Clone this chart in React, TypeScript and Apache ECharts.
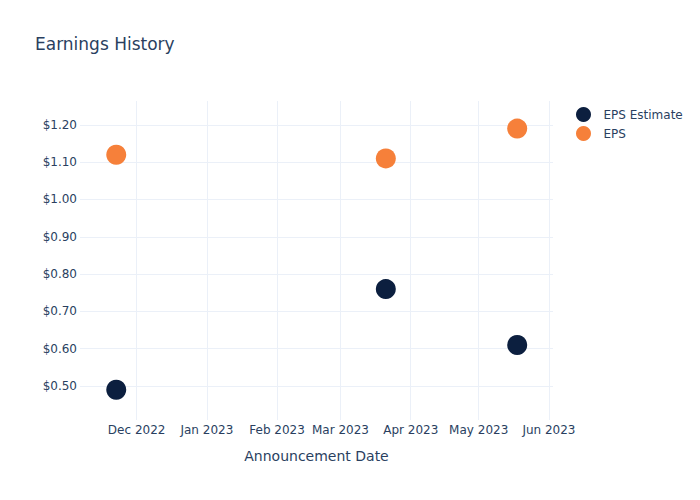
import React, { useEffect, useRef } from "react";
import * as echarts from "echarts";

const announcementDates = ["2022-11-22", "2023-03-21", "2023-05-18"];
const epsEstimate = [0.49, 0.76, 0.61];
const epsActual = [1.12, 1.11, 1.19];
const xTickDates = ["2022-12-01", "2023-01-01", "2023-02-01", "2023-03-01", "2023-04-01", "2023-05-01", "2023-06-01"];
const yTickValues = [0.5, 0.6, 0.7, 0.8, 0.9, 1.0, 1.1, 1.2];
const monthNames = ["Jan", "Feb", "Mar", "Apr", "May", "Jun", "Jul", "Aug", "Sep", "Oct", "Nov", "Dec"];

const ts = (d: string) => {
  const [y, m, day] = d.split("-").map(Number);
  return Date.UTC(y, m - 1, day);
};

const FONT = "DejaVu Sans";
const TEXT = "#2a3f5f";
const GRID = "#ebf0f8";

export default function App() {
  const ref = useRef<HTMLDivElement>(null);
  useEffect(() => {
    document.body.style.margin = "0";
    const chart = echarts.init(ref.current!, null, { renderer: "svg" });
    chart.setOption({
      animation: false,
      backgroundColor: "#ffffff",
      textStyle: { fontFamily: FONT },
      title: {
        text: "Earnings History",
        left: 30,
        top: 30,
        textStyle: { fontFamily: FONT, fontSize: 17, fontWeight: "normal", color: TEXT },
      },
      legend: {
        orient: "vertical",
        left: 571,
        top: 102,
        itemWidth: 26,
        itemHeight: 15,
        itemGap: 4,
        icon: "circle",
        textStyle: { fontFamily: FONT, fontSize: 12, color: TEXT, padding: [0, 0, 0, 2] },
        data: ["EPS Estimate", "EPS"],
      },
      grid: { left: 80, right: 147, top: 101, bottom: 80, containLabel: false },
      xAxis: {
        type: "value",
        min: ts("2022-11-06"),
        max: ts("2023-06-02") + 0.8 * 86400000,
        name: "Announcement Date",
        nameLocation: "middle",
        nameGap: 29,
        nameTextStyle: { fontFamily: FONT, fontSize: 14, color: TEXT },
        axisLine: { show: false },
        axisTick: { show: false, customValues: xTickDates.map(ts) },
        axisLabel: {
          customValues: xTickDates.map(ts),
          margin: 4,
          fontFamily: FONT,
          fontSize: 12,
          color: TEXT,
          hideOverlap: false,
          formatter: (v: number) => {
            const d = new Date(v);
            return monthNames[d.getUTCMonth()] + " " + d.getUTCFullYear();
          },
        },
        splitLine: { show: true, lineStyle: { color: GRID, width: 1 } },
      },
      yAxis: {
        type: "value",
        min: 0.409,
        max: 1.264,
        axisLine: { show: false },
        axisTick: { show: false, customValues: yTickValues },
        axisLabel: {
          customValues: yTickValues,
          margin: 3,
          fontFamily: FONT,
          fontSize: 12,
          color: TEXT,
          formatter: (v: number) => "$" + v.toFixed(2),
        },
        splitLine: { show: true, lineStyle: { color: GRID, width: 1 } },
      },
      series: [
        {
          name: "EPS Estimate",
          type: "scatter",
          symbolSize: 20,
          itemStyle: { color: "#0c1f3f", opacity: 1 },
          data: announcementDates.map((d, i) => [ts(d), epsEstimate[i]]),
        },
        {
          name: "EPS",
          type: "scatter",
          symbolSize: 20,
          itemStyle: { color: "#f6803a", opacity: 1 },
          data: announcementDates.map((d, i) => [ts(d), epsActual[i]]),
        },
      ],
    });
    return () => chart.dispose();
  }, []);
  return <div ref={ref} style={{ width: 700, height: 500 }} />;
}
